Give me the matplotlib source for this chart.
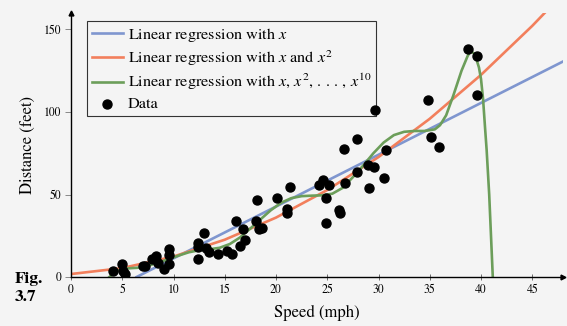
import numpy as np
import matplotlib
matplotlib.use("Agg")
import matplotlib.pyplot as plt

# data points (speed in mph, distance in feet)
speed = [4.1, 5.0, 5.1, 5.3, 7.0, 7.2, 7.9, 8.3, 8.5, 9.1, 9.55, 9.55, 9.6,
         12.35, 12.35, 12.35, 13.0, 13.2, 13.5, 14.3, 15.2, 15.7, 16.05, 16.5,
         16.8, 17.0, 18.1, 18.0, 18.35, 18.6, 20.1, 21.4, 21.1, 21.1, 24.2,
         24.6, 25.2, 24.9, 24.85, 26.15, 26.2, 26.6, 27.9, 26.7, 27.9, 29.1,
         28.95, 29.6, 29.7, 30.7, 30.5, 38.7, 39.6, 39.6, 34.8, 35.15, 35.95]
dist = [3.8, 7.9, 3.6, 1.8, 6.6, 6.6, 10.8, 12.7, 8.3, 4.6, 16.7, 13.3, 8.0,
        20.7, 18.3, 10.7, 26.8, 17.6, 15.1, 14.2, 15.7, 13.9, 33.9, 18.7,
        28.8, 22.3, 46.8, 33.9, 28.8, 29.8, 47.8, 54.7, 41.5, 38.9, 55.8,
        58.8, 55.8, 47.6, 32.8, 40.9, 38.5, 77.8, 83.9, 56.8, 63.9, 54.0,
        67.9, 66.8, 101.0, 76.8, 59.7, 138.3, 134.0, 110.0, 107.0, 84.8, 78.8]

# fitted curves
lin_x = [6.4, 48]
lin_y = [0, 130.6]

quad_x = [0, 5, 10, 15, 20, 25, 30, 35, 40, 45, 48]
quad_y = [1.8, 5.4, 12.4, 22.6, 36, 52.7, 72.7, 95.9, 122.5, 152.2, 171.6]

poly_x = [3.75, 4.3, 4.8, 5.5, 6.5, 7.5, 8.5, 9.5, 10.5, 11.5, 12.5, 13.5,
          14.5, 15.5, 16.5, 17.5, 18.5, 19.5, 20.5, 21.5, 22.5, 23.5, 24.5,
          25.5, 26.5, 27.5, 28.5, 29.5, 30.5, 31.5, 32.5, 33.5, 34.5, 35.5,
          36.0, 36.6, 37.3, 38.1, 38.7, 39.0, 39.4, 39.8, 40.0, 40.2, 40.4,
          40.55, 40.8, 41.15]
poly_y = [0, 3, 4.4, 5.2, 5.6, 6.8, 8.6, 10.8, 13, 15, 16.2, 16.8,
          17.7, 20, 24, 29.4, 35, 40.5, 45, 47.8, 49, 49.3, 49.5,
          50.5, 54, 60.5, 67.5, 75, 81.5, 86, 88, 88.5, 88.5, 89.5,
          92, 98, 110, 125, 134, 137, 135, 127, 120, 108, 90,
          77, 50, 0]

xticks = [0, 5, 10, 15, 20, 25, 30, 35, 40, 45]
yticks = [0, 50, 100, 150]

bg = '#f4f4f4'
blue = '#7f96cf'
red = '#f27f5c'
green = '#6c9e5a'

plt.rcParams['font.family'] = ['STIXGeneral', 'DejaVu Serif']
plt.rcParams['mathtext.fontset'] = 'stix'

fig = plt.figure(figsize=(5.67, 3.26), dpi=100, facecolor=bg)
ax = fig.add_axes([71 / 567, 49 / 326, 492 / 567, 264 / 326])
ax.set_facecolor(bg)

ax.plot(lin_x, lin_y, color=blue, lw=1.9, label='Linear regression with $x$')
ax.plot(quad_x, quad_y, color=red, lw=1.9, label='Linear regression with $x$ and $x^2$')
ax.plot(poly_x, poly_y, color=green, lw=1.9,
        label='Linear regression with $x,\\, x^2,\\, .\\,.\\,.\\,,\\, x^{10}$')
ax.scatter(speed, dist, s=42, color='black', zorder=3, label='Data')

ax.set_xlim(0, 48)
ax.set_ylim(0, 160)
ax.set_xticks(xticks)
ax.set_yticks(yticks)
ax.tick_params(axis='x', direction='inout', length=5, width=0.6, color='#555555',
               labelsize=8.5, pad=3)
ax.tick_params(axis='y', direction='out', length=4, width=0.6, color='#777777',
               labelsize=8.5, pad=3)

for s in ['top', 'right']:
    ax.spines[s].set_visible(False)
for s in ['left', 'bottom']:
    ax.spines[s].set_linewidth(1.0)
# arrow heads at the axis ends
ax.plot(1, 0, '>', color='black', ms=3.5, transform=ax.transAxes, clip_on=False)
ax.plot(0, 1, '^', color='black', ms=3.5, transform=ax.transAxes, clip_on=False)

ax.set_xlabel('Speed (mph)', fontsize=12, labelpad=6)
ax.set_ylabel('Distance (feet)', fontsize=12, labelpad=6)

leg = ax.legend(loc='upper left', bbox_to_anchor=(87 / 567, 1 - 21 / 326),
                bbox_transform=fig.transFigure, borderaxespad=0, fontsize=11.7,
                fancybox=False, framealpha=1, facecolor=bg, edgecolor='#333333',
                handlelength=1.9, handletextpad=0.3, labelspacing=0.26,
                borderpad=0.3)
leg.get_frame().set_linewidth(0.8)
leg.set_zorder(2.5)  # data dot at the corner sits on top of the frame

fig.text(15 / 567, 1 - 288 / 326, 'Fig.\n3.7', fontsize=12.5, fontweight='bold',
         va='center', ha='left', linespacing=1.3)

fig.savefig('out.png', dpi=100, facecolor=bg)
